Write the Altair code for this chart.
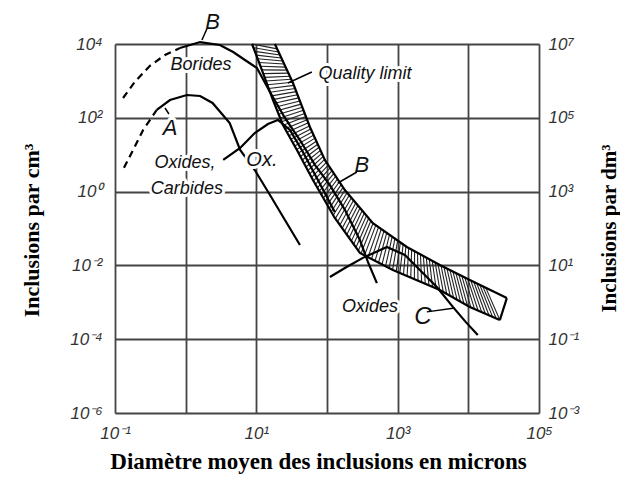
import altair as alt
import pandas as pd
import numpy as np

# ---------------- data ----------------
# Curve B (Borides): dashed rising part, then solid part
b_dash_x = [0.13, 0.19, 0.31, 0.51, 0.83]
b_dash_y = [344, 933, 2535, 5035, 7795]
b_x = [0.83, 1.6, 3.05, 4.7, 6.9, 10.2, 15.6, 25.4, 41.4, 67.4, 110, 179, 292, 379, 508]
b_y = [7795, 11300, 9400, 6070, 3680, 2238, 500, 98.8, 25, 5.3, 1.5, 0.32, 0.049, 0.0124, 0.0033]

# Curve A (Oxides, Carbides)
a_dash_x = [0.134, 0.18, 0.25, 0.39]
a_dash_y = [4.4, 13.4, 46.7, 163]
a_x = [0.39, 0.60, 1.04, 1.6, 2.4, 4.2, 5.9, 9.5, 15.6, 25.4, 41.4]
a_y = [163, 303, 415, 390, 252, 72.3, 13.4, 3.85, 0.81, 0.17, 0.0357]

# Curve "Ox."
ox_x = [3.4, 5.9, 9.5, 14.6, 20.2, 29.9, 45.6, 74.3, 129]
ox_y = [7.2, 15.2, 38.7, 67.9, 87.1, 46.7, 11.8, 2.06, 0.28]

# Curve "Oxides" / C
oc_x = [110, 179, 322, 703, 1265, 2061, 3581, 6039, 9230, 13600]
oc_y = [0.00485, 0.0085, 0.016, 0.0315, 0.0191, 0.0075, 0.0026, 0.00075, 0.00029, 0.00013]

# Quality limit band (lower/left edge and upper/right edge)
band_lo_x = [8.7, 12, 17.2, 23.8, 37.5, 63.2, 129, 292, 855, 3954, 10500, 27900]
band_lo_y = [1e4, 1972, 303, 63.8, 13.4, 2.06, 0.193, 0.0217, 0.0075, 0.00215, 0.00075, 0.00033]
band_hi_x = [18.3, 33, 57.3, 93.3, 179, 446, 1349, 3954, 10500, 35060]
band_hi_y = [1e4, 877, 56.4, 7.2, 1.1, 0.14, 0.0315, 0.0103, 0.0040, 0.0013]

# Annotations
label_text = ["B", "Borides", "A", "Oxides,", "Carbides", "Ox.", "Quality limit", "B", "Oxides", "C"]
label_x = [2.4, 1.65, 0.60, 0.98, 1.04, 12, 344, 312, 405, 2270]
label_y = [40000, 2700, 53, 5.96, 1.17, 7.2, 1538, 5.3, 0.00075, 0.0004]
label_size = [22, 18, 22, 18, 18, 20, 18, 22, 18, 24]

ptr_x1 = [2.0, 0.51, 28, 265, 2588]
ptr_y1 = [26000, 184, 877, 3.4, 0.00055]
ptr_x2 = [1.7, 0.58, 61, 142.6, 6440]
ptr_y2 = [12800, 127, 1742, 1.71, 0.0007]

x_ticks = [0.1, 1, 10, 100, 1000, 1e4, 1e5]
y_ticks = [1e-6, 1e-4, 1e-2, 1, 1e2, 1e4]
y2_ticks = [1e-3, 1e-1, 1e1, 1e3, 1e5, 1e7]

# ---------------- tables ----------------
def curve(name, xs, ys):
    return pd.DataFrame({"id": name, "o": range(len(xs)), "x": xs, "y": ys})

solid = pd.concat([curve("B", b_x, b_y), curve("A", a_x, a_y), curve("Ox", ox_x, ox_y),
                   curve("OC", oc_x, oc_y), curve("lo", band_lo_x, band_lo_y),
                   curve("hi", band_hi_x, band_hi_y),
                   curve("end", [band_lo_x[-1], band_hi_x[-1]], [band_lo_y[-1], band_hi_y[-1]])])
dashed = pd.concat([curve("Bd", b_dash_x, b_dash_y), curve("Ad", a_dash_x, a_dash_y)])

# hatching of the band (decoration built from the two edges)
def resample(xs, ys, t):
    lx, ly = np.log10(xs), np.log10(ys)
    d = np.hypot(np.diff(lx) * 1.92, np.diff(ly))
    s = np.concatenate([[0], np.cumsum(d)])
    s /= s[-1]
    return 10 ** np.interp(t, s, lx), 10 ** np.interp(t, s, ly)

n_h = 100
t = np.linspace(0.0, 1.0, n_h)
shift = 0.015 - 0.08 * t
t2 = np.clip(t + shift, 0, 1)
lo_x, lo_y = resample(band_lo_x, band_lo_y, t)
hi_x, hi_y = resample(band_hi_x, band_hi_y, t2)
hatch = pd.DataFrame({"x": lo_x, "y": lo_y, "x2": hi_x, "y2": hi_y})

labels = pd.DataFrame({"t": label_text, "x": label_x, "y": label_y, "fs": label_size})
ptrs = pd.DataFrame({"x": ptr_x1, "y": ptr_y1, "x2": ptr_x2, "y2": ptr_y2})

# ---------------- axes ----------------
SUP = "['⁻⁶','⁻⁵','⁻⁴','⁻³','⁻²','⁻¹','⁰','¹','²','³','⁴','⁵','⁶','⁷'][round(log(datum.value)/LN10)+6]"
LABEL_FONT = "Liberation Sans"
TITLE_FONT = "Liberation Serif"
GRID = "#444"

xscale = alt.Scale(type="log", domain=[0.1, 1e5], nice=False)
yscale = alt.Scale(type="log", domain=[1e-6, 1e4], nice=False)
y2scale = alt.Scale(type="log", domain=[1e-3, 1e7], nice=False)

xaxis = alt.Axis(values=x_ticks, title="Diamètre moyen des inclusions en microns",
                 labelExpr="(round(log(datum.value)/LN10) % 2 != 0) ? '10' + " + SUP + " : ''",
                 grid=True, gridColor=GRID, gridWidth=1.8, ticks=False, domain=False,
                 labelFont=LABEL_FONT, labelFontStyle="italic", labelFontSize=17, labelColor="#333",
                 labelPadding=12, labelFlush=False,
                 titleFont=TITLE_FONT, titleFontWeight="bold", titleFontSize=23, titleColor="black",
                 titleX=203, titleY=48, titleBaseline="middle")
yaxis = alt.Axis(values=y_ticks, title="Inclusions par cm³", labelExpr="'10' + " + SUP,
                 grid=True, gridColor=GRID, gridWidth=1.8, ticks=False, domain=False,
                 labelFont=LABEL_FONT, labelFontStyle="italic", labelFontSize=17, labelColor="#333",
                 labelPadding=13, labelFlush=False,
                 titleFont=TITLE_FONT, titleFontWeight="bold", titleFontSize=22, titleColor="black",
                 titleX=-84, titleY=186, titleAngle=270, titleBaseline="middle", titleAlign="center")
y2axis = alt.Axis(values=y2_ticks, title="Inclusions par dm³", orient="right", labelExpr="'10' + " + SUP,
                  grid=False, ticks=False, domain=False,
                  labelFont=LABEL_FONT, labelFontStyle="italic", labelFontSize=17, labelColor="#333",
                  labelPadding=9, labelFlush=False,
                  titleFont=TITLE_FONT, titleFontWeight="bold", titleFontSize=21, titleColor="black",
                  titleX=70, titleY=184, titleAngle=270, titleBaseline="middle", titleAlign="center")

def X(f="x"):
    return alt.X(f"{f}:Q", scale=xscale, axis=xaxis)

def Y(f="y"):
    return alt.Y(f"{f}:Q", scale=yscale, axis=yaxis)

hatch_layer = alt.Chart(hatch).mark_rule(color="#222", strokeWidth=1.1).encode(
    x=X(), y=Y(), x2="x2:Q", y2="y2:Q")
solid_layer = alt.Chart(solid).mark_line(color="black", strokeWidth=2.2).encode(
    x=X(), y=Y(), detail="id:N", order="o:Q")
dashed_layer = alt.Chart(dashed).mark_line(color="black", strokeWidth=2.2, strokeDash=[7, 5]).encode(
    x=X(), y=Y(), detail="id:N", order="o:Q")
ptr_layer = alt.Chart(ptrs).mark_rule(color="black", strokeWidth=1.5).encode(
    x=X(), y=Y(), x2="x2:Q", y2="y2:Q")
halo_layer = alt.Chart(labels).mark_text(font=LABEL_FONT, fontStyle="italic", stroke="white",
                                         strokeWidth=6, strokeJoin="round", fill="white").encode(
    x=X(), y=Y(), text="t:N", size=alt.Size("fs:Q", scale=None, legend=None))
text_layer = alt.Chart(labels).mark_text(font=LABEL_FONT, fontStyle="italic", color="#111").encode(
    x=X(), y=Y(), text="t:N", size=alt.Size("fs:Q", scale=None, legend=None))

main = alt.layer(hatch_layer, solid_layer, dashed_layer, halo_layer, text_layer, ptr_layer)

right = alt.Chart(pd.DataFrame({"x": [0.1, 0.1], "y": [1e-3, 1e7]})).mark_point(opacity=0).encode(
    x=X(), y=alt.Y("y:Q", scale=y2scale, axis=y2axis))

chart = alt.layer(main, right).resolve_scale(y="independent").properties(
    width=424, height=369,
    autosize=alt.AutoSizeParams(type="none"),
    padding={"left": 107, "top": 36, "right": 81, "bottom": 70},
).configure_view(stroke="#222", strokeWidth=2).configure(background="white")

chart.save("out.html", embed_options={"renderer": "svg", "actions": False})
